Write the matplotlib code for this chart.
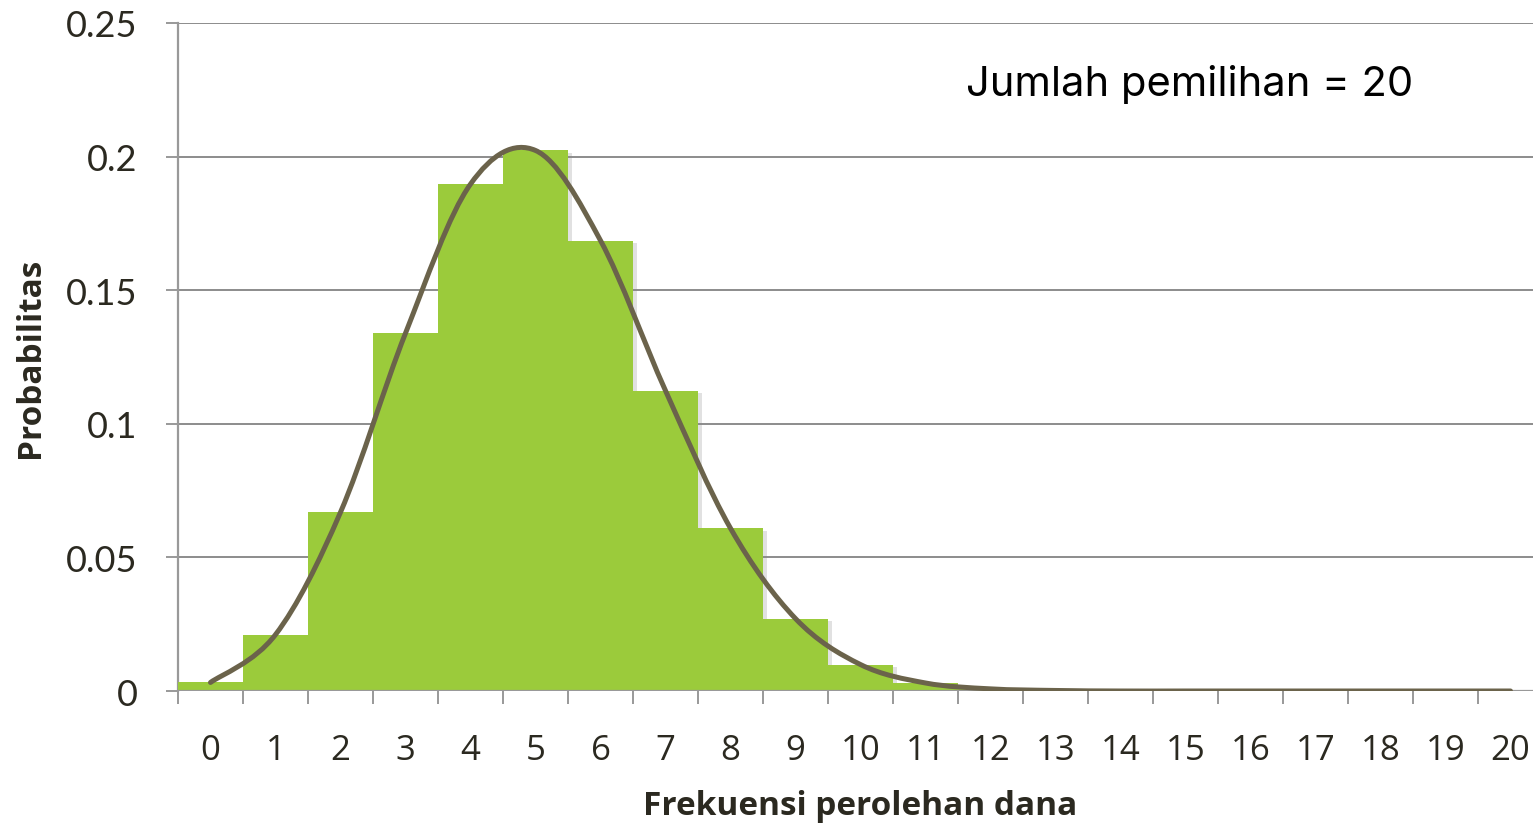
import numpy as np
import matplotlib
matplotlib.use("Agg")
import matplotlib.pyplot as plt
import matplotlib.patheffects as pe
from matplotlib.path import Path
from matplotlib.patches import PathPatch

# ---------------------------
# Data
# ---------------------------
categories = [str(i) for i in range(21)]
probabilities = [0.0032, 0.0211, 0.0669, 0.1339, 0.1897, 0.2023, 0.1686,
                 0.1124, 0.0609, 0.0271, 0.0099, 0.0030, 0.0008, 0.0002,
                 0.0, 0.0, 0.0, 0.0, 0.0, 0.0, 0.0]
y_ticks = [0, 0.05, 0.1, 0.15, 0.2, 0.25]
y_tick_labels = ["0", "0.05", "0.1", "0.15", "0.2", "0.25"]

bar_color = "#9BCB3B"
line_color = "#6B634B"
text_color = "#2B2920"
grid_color = "#8C8C8C"

W, H = 1533, 829
fig = plt.figure(figsize=(W / 100, H / 100), dpi=100)
ax = fig.add_axes([178 / W, 1 - 692 / H, 1365 / W, (692 - 24) / H])

x = np.arange(len(categories))

# ---------------------------
# Bars with soft shadow
# ---------------------------
ax.bar(x, probabilities, width=1.0, color=bar_color, zorder=3,
       path_effects=[pe.SimplePatchShadow(offset=(3, -2), shadow_rgbFace="#8a8a8a", alpha=0.25),
                     pe.Normal()])

# ---------------------------
# Smoothed line (Bezier, Excel-like smoothing)
# ---------------------------
pts = list(zip(x, probabilities))
verts = [pts[0]]
codes = [Path.MOVETO]
for i in range(len(pts) - 1):
    p0 = pts[i - 1] if i > 0 else pts[i]
    p1 = pts[i]
    p2 = pts[i + 1]
    p3 = pts[i + 2] if i + 2 < len(pts) else pts[i + 1]
    c1 = (p1[0] + (p2[0] - p0[0]) / 6, p1[1] + (p2[1] - p0[1]) / 6)
    c2 = (p2[0] - (p3[0] - p1[0]) / 6, p2[1] - (p3[1] - p1[1]) / 6)
    verts += [c1, c2, p2]
    codes += [Path.CURVE4] * 3
ax.add_patch(PathPatch(Path(verts, codes), fill=False, edgecolor=line_color,
                       linewidth=3.6, capstyle="round", joinstyle="round", zorder=5))

# ---------------------------
# Axes styling
# ---------------------------
ax.set_xlim(-0.5, 20.5)
ax.set_ylim(0, 0.25)
ax.set_yticks(y_ticks)
ax.set_yticklabels(y_tick_labels)
ax.set_xticks(x)
ax.set_xticklabels(categories)
ax.set_xticks(np.arange(-0.5, 21, 1.0), minor=True)

for s in ["top", "right", "bottom"]:
    ax.spines[s].set_visible(False)
ax.spines["left"].set_color("#999999")
ax.spines["left"].set_linewidth(1.6)
ax.set_axisbelow(True)
ax.grid(axis="y", color=grid_color, linewidth=1.4, zorder=0)
ax.axhline(0, color="#999999", linewidth=1.6, zorder=4)

ax.tick_params(axis="y", length=9, width=1.4, color="#999999", pad=20,
               labelsize=26, labelcolor=text_color)
ax.tick_params(axis="x", which="major", length=0, pad=30,
               labelsize=25, labelcolor=text_color)
ax.tick_params(axis="x", which="minor", length=9, width=1.4, color="#999999")
for lab in ax.get_yticklabels():
    lab.set_fontfamily("Lato")
for lab in ax.get_xticklabels():
    lab.set_fontfamily("Open Sans")

ax.set_xlabel("Frekuensi perolehan dana", fontsize=24, fontweight="bold",
              color=text_color, family="Open Sans", labelpad=16)
ax.set_ylabel("Probabilitas", fontsize=24, fontweight="bold",
              color=text_color, family="Open Sans", labelpad=14)

fig.text(966 / W, 1 - 85 / H, "Jumlah pemilihan = 20", fontsize=30,
         color="black", family="Inter", va="center", ha="left")

fig.savefig("out.png", dpi=100)
